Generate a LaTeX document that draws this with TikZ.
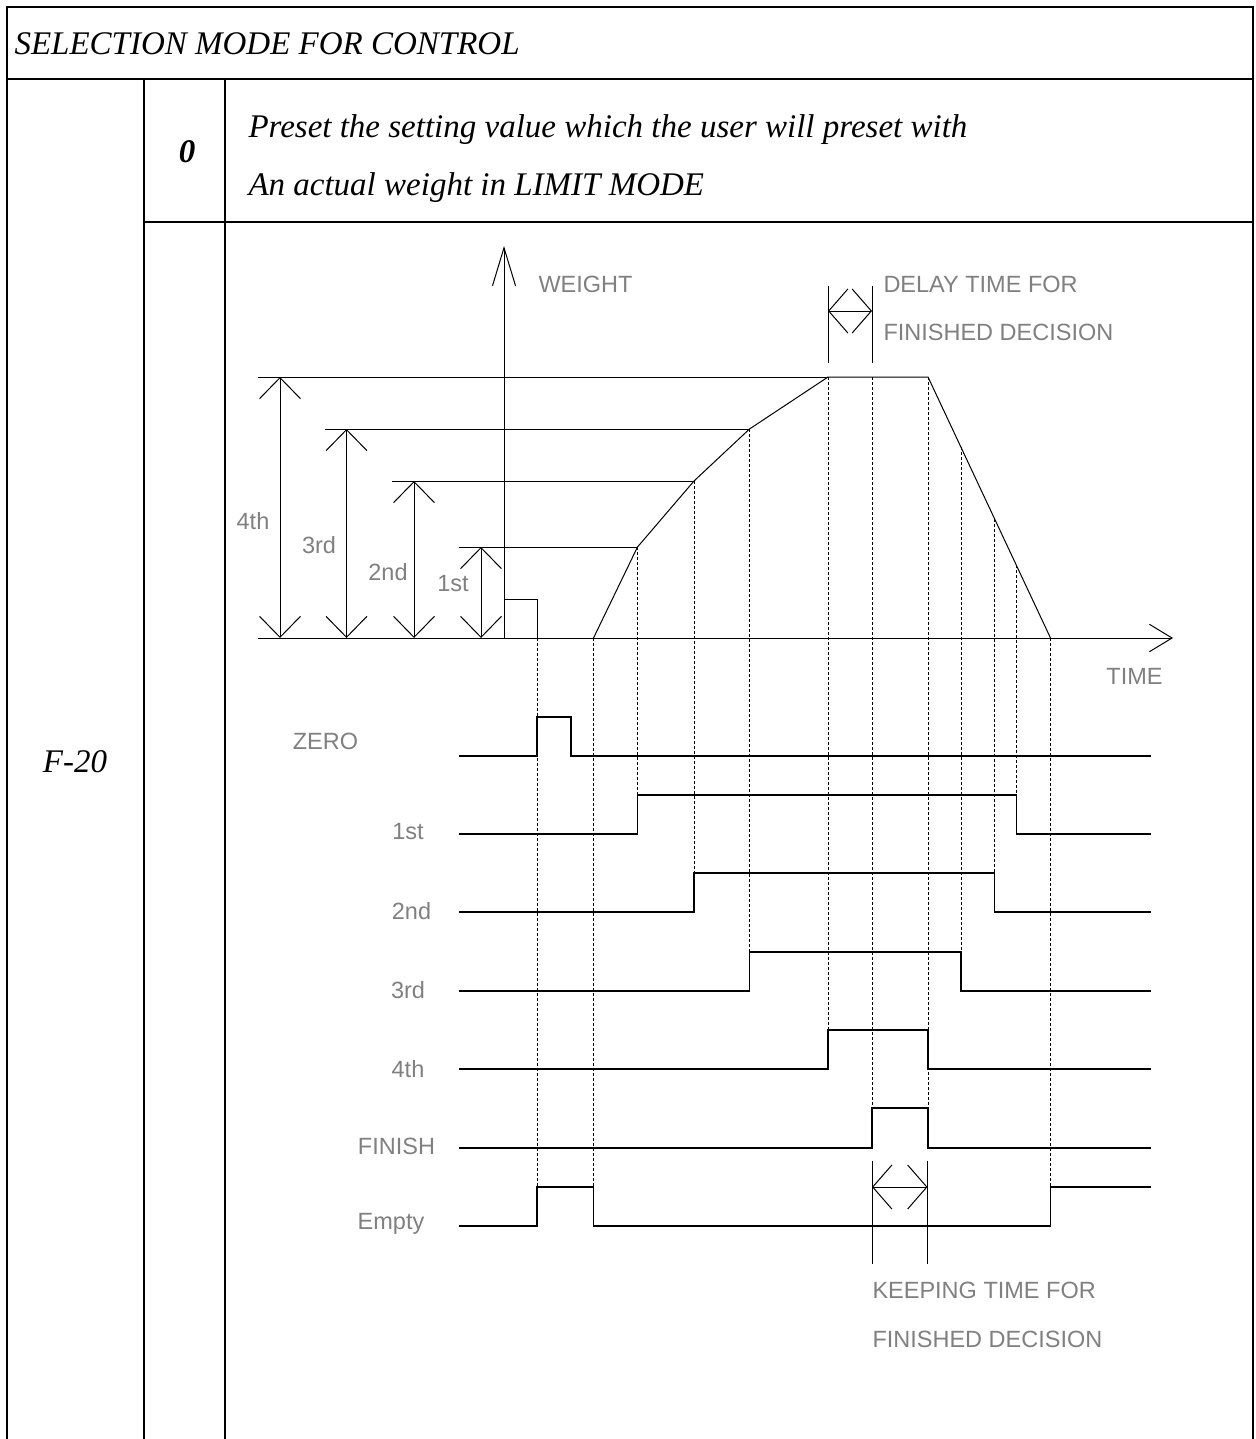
\documentclass[tikz,border=0pt]{standalone}
\usepackage{fontspec}
\setmainfont{Liberation Serif}
\setsansfont{Liberation Sans}
\usepackage{xcolor}
\usetikzlibrary{calc,arrows.meta}
\definecolor{lblgray}{RGB}{128,128,128}

\begin{document}
\begin{tikzpicture}[x=0.5pt,y=-0.5pt,line width=0.5pt,
		cell/.style={font=\fontsize{16.5}{20}\selectfont\itshape,inner sep=0pt},
		lbl/.style={text=lblgray,font=\sffamily\fontsize{11.75}{14}\selectfont,inner sep=0pt},
		frame/.style={line width=1.3pt},
		sig/.style={line width=0.6pt},
		guide/.style={line width=0.4pt,dash pattern=on 1.5pt off 1pt},
		dimarr/.style={{Straight Barb[length=10.5pt,width=20.5pt]}-{Straight Barb[length=10.5pt,width=20.5pt]}},
		timearr/.style={{Straight Barb[length=9.6pt,width=22pt]}-{Straight Barb[length=9.6pt,width=22pt]}}]
			\useasboundingbox (0,0) rectangle (1256,1439);
			
			\draw[frame] (7,1439) -- (7,7) -- (1253,7) -- (1253,1439);
			\draw[frame] (7,79) -- (1253,79);
			\draw[frame] (144,79) -- (144,1439);
			\draw[frame] (225,79) -- (225,1439);
			\draw[frame] (144,222) -- (1253,222);
			
			\node[cell,anchor=west] (title) at (14,44) {SELECTION MODE FOR CONTROL};
			\node[cell] (mode) at (187,152) {\bfseries 0};
			\node[cell,anchor=west] (desc1) at (248,130) {Preset the setting value which the user will preset with};
			\node[cell,anchor=west] (desc2) at (248,188) {An actual weight in LIMIT MODE};
			\node[cell] (fno) at (75,762) {F-20};
			
			\coordinate (O) at (504,638);
			\coordinate (ytip) at (504,246);
			\coordinate (xtip) at (1173,638);
			\coordinate (S) at (593.5,638);
			\coordinate (P1) at (637.5,547);
			\coordinate (P2) at (694,481);
			\coordinate (P3) at (749.5,429);
			\coordinate (P4) at (828,377);
			\coordinate (Q4) at (928,377);
			\coordinate (E) at (1050.5,638);
			\coordinate (D3) at ($(Q4)!0.269!(E)$);
			\coordinate (D2) at ($(Q4)!0.543!(E)$);
			\coordinate (D1) at ($(Q4)!0.722!(E)$);
			
			\draw[-{Straight Barb[length=19pt,width=11.5pt]}] (O) -- (ytip);
			\draw[-{Straight Barb[length=11.3pt,width=13.7pt]}] (258,638) -- (xtip);
			\node[lbl,anchor=west] (wlbl) at (538,284) {WEIGHT};
			\node[lbl] (tlbl) at (1134.5,676) {TIME};
			
			\draw (258,377) -- (P4);
			\draw (325,429) -- (P3);
			\draw (392,481) -- (P2);
			\draw (459,547) -- (P1);
			\draw (O) |- (537,599) -- (537,638);
			\draw (S) -- (P1) -- (P2) -- (P3) -- (P4) -- (Q4) -- (E);
			
			\draw[dimarr] (280,377) -- (280,638);
			\draw[dimarr] (346.5,429) -- (346.5,638);
			\draw[dimarr] (414,481) -- (414,638);
			\draw[dimarr] (481,547) -- (481,638);
			\node[lbl] (l4) at (253,521) {4th};
			\node[lbl] (l3) at (319,545) {3rd};
			\node[lbl] (l2) at (388,572) {2nd};
			\node[lbl] (l1) at (453,584) {1st};
			
			\draw (P4 |- 0,286) -- (P4 |- 0,363);
			\draw (872,286) -- (872,363);
			\draw[timearr] (828,311) -- (872,311);
			\node[lbl,anchor=west] (dly1) at (883,284) {DELAY TIME FOR};
			\node[lbl,anchor=west] (dly2) at (883,332) {FINISHED DECISION};
			
			\draw[guide] (537,638) -- (537,1187);
			\draw[guide] (S) -- (593.5,1187);
			\draw[guide] (P1) -- (P1 |- 0,795);
			\draw[guide] (P2) -- (P2 |- 0,873);
			\draw[guide] (P3) -- (P3 |- 0,952);
			\draw[guide] (P4) -- (P4 |- 0,1030);
			\draw[guide] (872,377) -- (872,1108);
			\draw[guide] (Q4) -- (Q4 |- 0,1108);
			\draw[guide] (D3) -- (D3 |- 0,952);
			\draw[guide] (D2) -- (D2 |- 0,873);
			\draw[guide] (D1) -- (D1 |- 0,795);
			\draw[guide] (E) -- (E |- 0,1187);
			
			\node[lbl] (szero) at (325.5,741) {ZERO};
			\node[lbl] (s1) at (408,832) {1st};
			\node[lbl] (s2) at (411.5,911) {2nd};
			\node[lbl] (s3) at (408,990) {3rd};
			\node[lbl] (s4) at (408,1069) {4th};
			\node[lbl] (sfin) at (396.5,1146) {FINISH};
			\node[lbl] (semp) at (391,1224) {Empty};
			
			\draw[sig] (459,756) -- (537,756) -- (537,717) -- (571,717) -- (571,756) -- (1151,756);
			\draw[sig] (459,834) -- (637.5,834) -- (637.5,795) -- (1016.5,795) -- (1016.5,834) -- (1151,834);
			\draw[sig] (459,912) -- (694,912) -- (694,873) -- (994.5,873) -- (994.5,912) -- (1151,912);
			\draw[sig] (459,991) -- (749.5,991) -- (749.5,952) -- (961,952) -- (961,991) -- (1151,991);
			\draw[sig] (459,1069) -- (828,1069) -- (828,1030) -- (928,1030) -- (928,1069) -- (1151,1069);
			\draw[sig] (459,1148) -- (872,1148) -- (872,1108) -- (928,1108) -- (928,1148) -- (1151,1148);
			\draw[sig] (459,1226) -- (537,1226) -- (537,1187) -- (593.5,1187) -- (593.5,1226) -- (1050.5,1226) -- (1050.5,1187) -- (1151,1187);
			
			\draw (872,1161) -- (872,1264);
			\draw (927.5,1161) -- (927.5,1264);
			\draw[timearr] (872,1187) -- (927.5,1187);
			\node[lbl,anchor=west] (kp1) at (872,1290) {KEEPING TIME FOR};
			\node[lbl,anchor=west] (kp2) at (872,1339) {FINISHED DECISION};
		\end{tikzpicture}
\end{document}
